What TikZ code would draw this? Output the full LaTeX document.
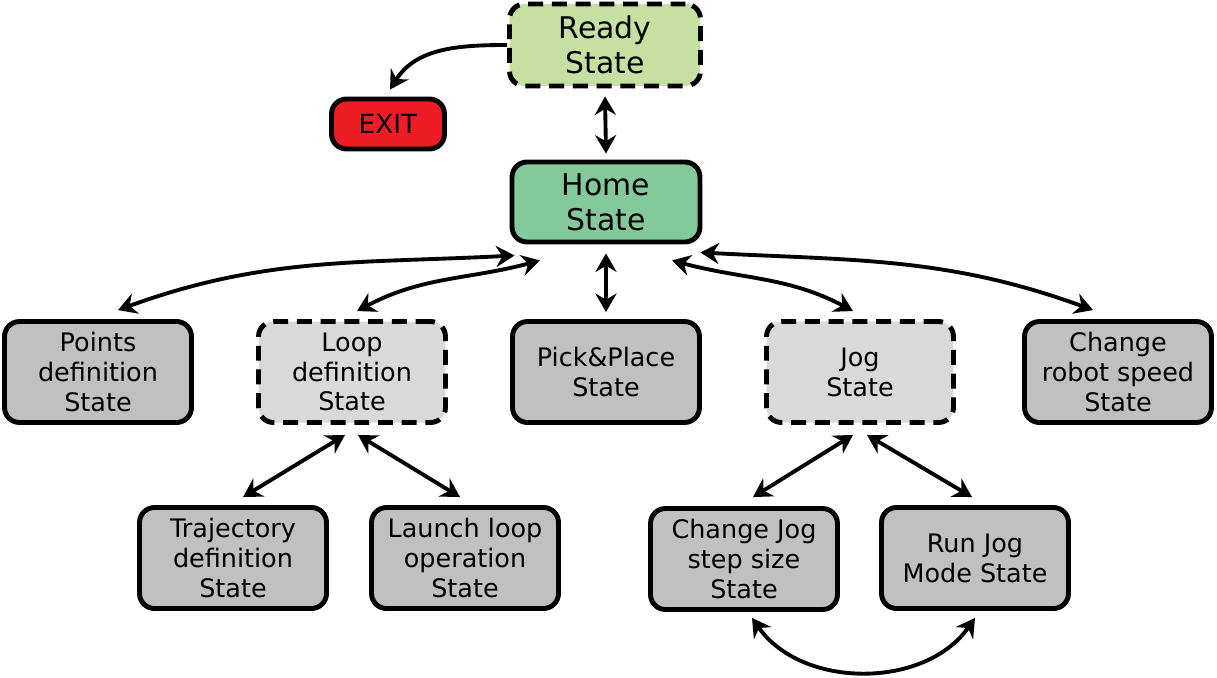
\documentclass[tikz,border=0pt]{standalone}
\usepackage{fontspec}
\setmainfont{DejaVu Sans}
\usepackage{xcolor}
\usetikzlibrary{arrows.meta,positioning,calc}
\definecolor{readygreen}{HTML}{C5E0A0}
\definecolor{homegreen}{HTML}{84C99A}
\definecolor{exitred}{HTML}{EE1C25}
\definecolor{stategrey}{HTML}{C0C0C0}
\definecolor{dashgrey}{HTML}{D9D9D9}
\tikzset{
  state/.style={draw, line width=2.8pt, rounded corners=0.3cm, fill=stategrey,
    align=center, inner sep=2pt, minimum width=3.74cm, minimum height=2.02cm,
    font=\fontsize{14.5}{17}\selectfont},
  dashedstate/.style={state, fill=dashgrey, dash pattern=on 8.5pt off 5pt},
  tip/.tip={Stealth[length=10.5pt,width=12pt,inset=3.5pt]},
  link/.style={line width=2.2pt, tip-tip},
  onelink/.style={line width=2.2pt, -tip}
}

\begin{document}
\begin{tikzpicture}[x=0.02cm,y=-0.02cm]
  \useasboundingbox (0,0) rectangle (1217,677);

  \node[dashedstate, fill=readygreen, minimum width=3.82cm, minimum height=1.64cm,
    font=\fontsize{17}{20}\selectfont] at (605,45) (ready) {Ready\\State};
  \node[state, fill=exitred, minimum width=2.26cm, minimum height=1.0cm,
    font=\fontsize{15}{18}\selectfont] at (388,124) (exit) {EXIT};
  \node[state, fill=homegreen, minimum width=3.76cm, minimum height=1.6cm,
    font=\fontsize{17}{20}\selectfont] at (606,202) (home) {Home\\State};

  \node[state] at (98,372) (points) {Points\\definition\\State};
  \node[dashedstate] at (352,372) (loopdef) {Loop\\definition\\State};
  \node[state] at (606,372) (pickplace) {Pick\&Place\\State};
  \node[dashedstate] at (860,372) (jog) {Jog\\State};
  \node[state] at (1118,372) (speed) {Change\\robot speed\\State};

  \node[state] at (233,558) (trajectory) {Trajectory\\definition\\State};
  \node[state] at (465,558) (launch) {Launch loop\\operation\\State};
  \node[state] at (744,559) (jogstep) {Change Jog\\step size\\State};
  \node[state] at (975,558) (jogrun) {Run Jog\\Mode State};

  \draw[onelink] (ready.west) to[out=180,in=58] ($(exit.north)+(2,-7)$);
  \draw[link] ($(ready.south)+(0,8)$) -- ($(home.north)+(0,-6)$);

  \draw[link] ($(home.south west)+(5,11)$) to[out=183,in=20] ($(points.north)+(20,-9)$);
  \draw[link] ($(home.south)+(-66,16)$) to[out=195,in=28] ($(loopdef.north)+(5,-8)$);
  \draw[link] ($(home.south)+(0,9)$) -- ($(pickplace.north)+(0,-7)$);
  \draw[link] ($(home.south)+(66,16)$) to[out=-15,in=152] ($(jog.north)+(-7,-8)$);
  \draw[link] ($(home.south east)+(-2,8)$) to[out=-3,in=160] ($(speed.north)+(-25,-9)$);

  \draw[link] ($(loopdef.south)+(-7,10)$) -- ($(trajectory.north)+(10,-8)$);
  \draw[link] ($(loopdef.south)+(6,10)$) -- ($(launch.north)+(-5,-8)$);
  \draw[link] ($(jog.south)+(-7,10)$) -- ($(jogstep.north)+(9,-9)$);
  \draw[link] ($(jog.south)+(7,10)$) -- ($(jogrun.north)+(-3,-8)$);

  \draw[link] ($(jogstep.south)+(8,6)$) to[out=-55,in=-125] ($(jogrun.south)+(0,7)$);
\end{tikzpicture}
\end{document}
